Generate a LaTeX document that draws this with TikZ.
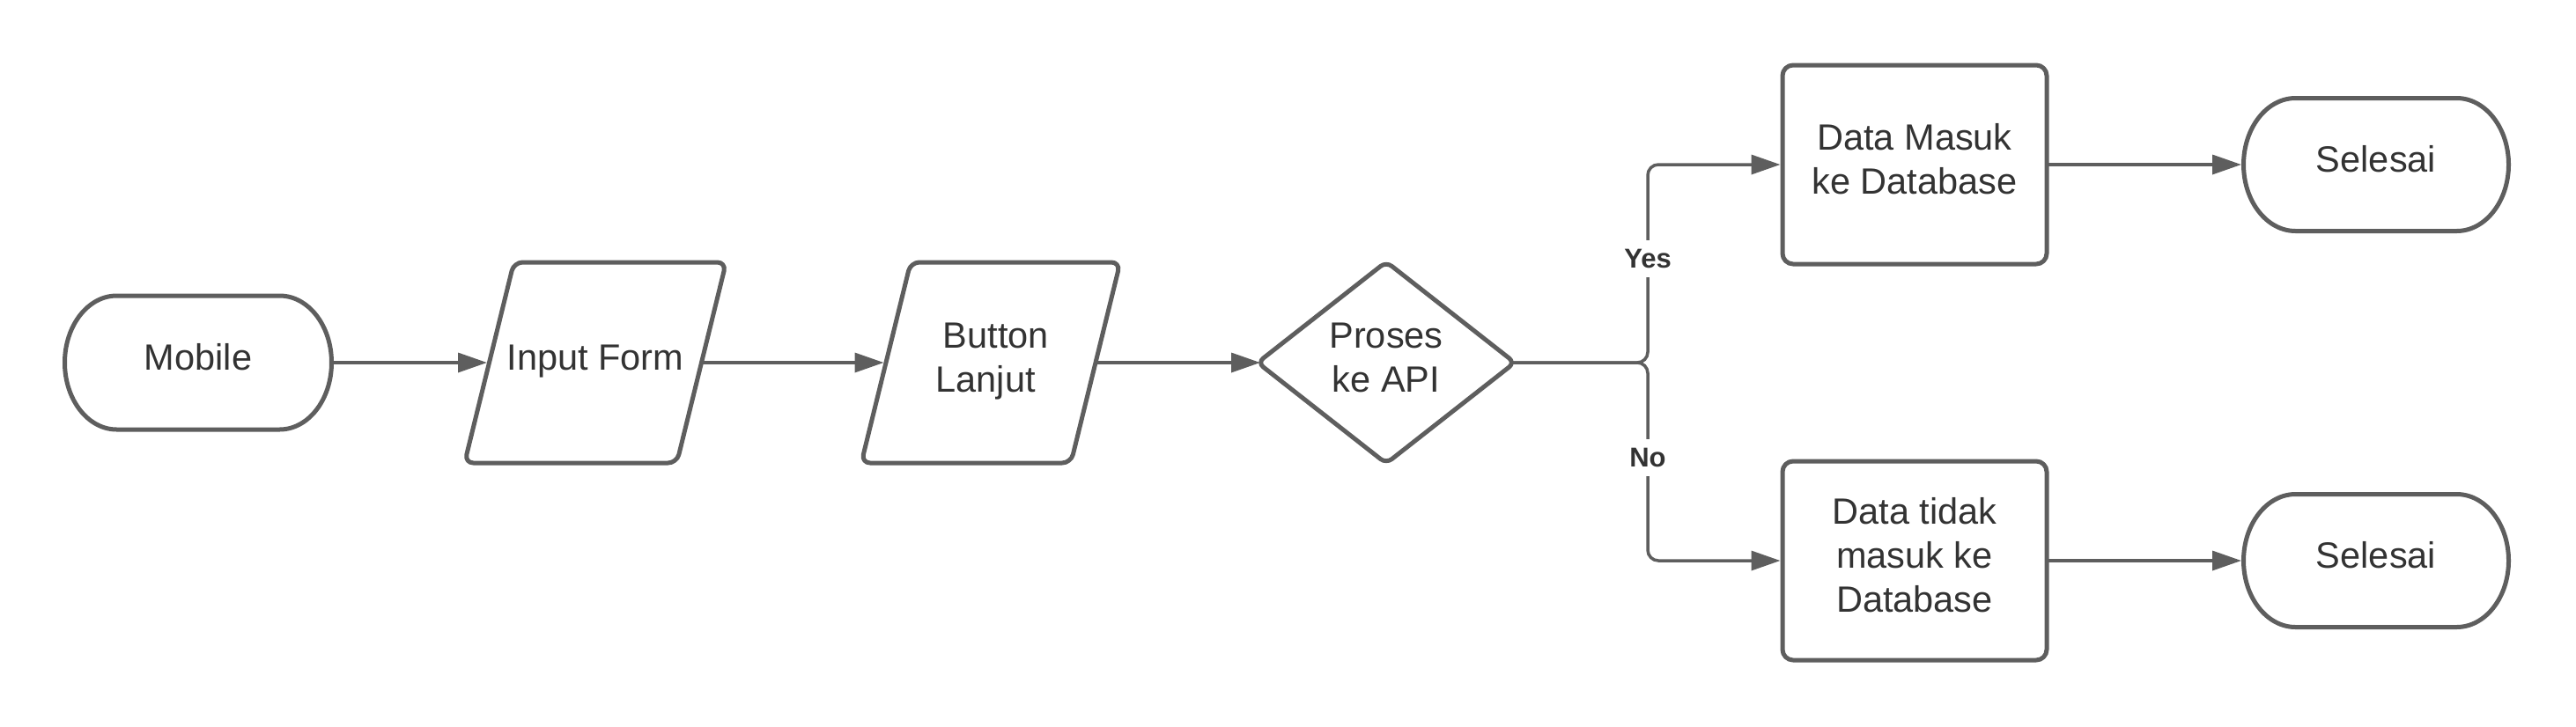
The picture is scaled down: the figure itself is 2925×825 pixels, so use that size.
\documentclass[tikz,border=0pt]{standalone}
\usepackage{fontspec}
\setmainfont{Liberation Sans}
\usetikzlibrary{arrows.meta,shapes.geometric}
\definecolor{lncol}{HTML}{5E5E5E}
\definecolor{txcol}{HTML}{333333}
\newcommand\lstrut{\rule[-17pt]{0pt}{50pt}}
\newcommand\padsp{\hspace*{0.278em}}
\begin{document}
\begin{tikzpicture}[x=1pt,y=-1pt,
  txt/.style={font=\fontsize{41.5}{50}\selectfont, text=txcol, align=center, inner sep=0pt, outer sep=0pt},
  shp/.style={draw=lncol, line width=5pt, line join=round},
  conn/.style={draw=lncol, line width=3.5pt, shorten >=2.5pt, -{Triangle[length=33pt,width=22pt]}},
  lbl/.style={font=\bfseries\fontsize{31}{36}\selectfont, text=txcol, fill=white, inner xsep=4pt, inner ysep=10pt}
]
\useasboundingbox[fill=white] (0,0) rectangle (2925,825);

% terminator Mobile
\node[txt, minimum width=303pt, minimum height=152pt] (mob) at (225,412) {\lstrut Mobile};
\draw[shp] ([xshift=59pt]mob.north west) -- ([xshift=-59pt]mob.north east)
  arc[start angle=90,end angle=-90,x radius=59pt,y radius=76pt]
  -- ([xshift=59pt]mob.south west)
  arc[start angle=270,end angle=90,x radius=59pt,y radius=76pt] -- cycle;

% parallelogram Input Form
\node[txt, minimum width=241pt, minimum height=228pt] (inp) at (676,412) {\lstrut Input Form};
\draw[shp, rounded corners=10pt] ([xshift=28pt]inp.north west) -- ([xshift=28pt]inp.north east)
  -- ([xshift=-28pt]inp.south east) -- ([xshift=-28pt]inp.south west) -- cycle;

% parallelogram Button Lanjut
\node[txt, minimum width=238pt, minimum height=228pt] (btn) at (1125,412) {\lstrut\padsp Button\\\lstrut Lanjut\padsp};
\draw[shp, rounded corners=10pt] ([xshift=28pt]btn.north west) -- ([xshift=28pt]btn.north east)
  -- ([xshift=-28pt]btn.south east) -- ([xshift=-28pt]btn.south west) -- cycle;

% decision
\node[txt, shp, diamond, rounded corners=8pt, minimum width=292pt, minimum height=218pt] (dia) at (1574,412) {\lstrut Proses\\\lstrut ke API};

% process boxes
\node[txt, shp, rounded corners=12pt, minimum width=300pt, minimum height=226pt] (dm) at (2174,187) {\lstrut Data Masuk\\\lstrut ke Database};
\node[txt, shp, rounded corners=12pt, minimum width=300pt, minimum height=226pt] (dt) at (2174,637) {\lstrut Data tidak\\\lstrut masuk ke\\\lstrut Database};

% terminators Selesai
\node[txt, minimum width=301pt, minimum height=151pt] (s1) at (2698,187) {\lstrut Selesai};
\draw[shp] ([xshift=59pt]s1.north west) -- ([xshift=-59pt]s1.north east)
  arc[start angle=90,end angle=-90,x radius=59pt,y radius=75.5pt]
  -- ([xshift=59pt]s1.south west)
  arc[start angle=270,end angle=90,x radius=59pt,y radius=75.5pt] -- cycle;
\node[txt, minimum width=301pt, minimum height=151pt] (s2) at (2698,637) {\lstrut Selesai};
\draw[shp] ([xshift=59pt]s2.north west) -- ([xshift=-59pt]s2.north east)
  arc[start angle=90,end angle=-90,x radius=59pt,y radius=75.5pt]
  -- ([xshift=59pt]s2.south west)
  arc[start angle=270,end angle=90,x radius=59pt,y radius=75.5pt] -- cycle;

% connectors
\draw[conn] (mob.east) -- (inp.west);
\draw[conn] (inp.east) -- (btn.west);
\draw[conn] (btn.east) -- ([xshift=5.5pt]dia.west);
\coordinate (jn) at (1871,412);
\draw[conn, rounded corners=12pt] ([xshift=-3pt]dia.east) -- (jn) |- (dm.west);
\draw[conn, rounded corners=12pt] ([xshift=-3pt]dia.east) -- (jn) |- (dt.west);
\draw[conn] (dm.east) -- (s1.west);
\draw[conn] (dt.east) -- (s2.west);

% branch labels
\node[lbl] (nyes) at (1871,294) {Yes};
\node[lbl] (nno) at (1871,520) {No};
\end{tikzpicture}
\end{document}
